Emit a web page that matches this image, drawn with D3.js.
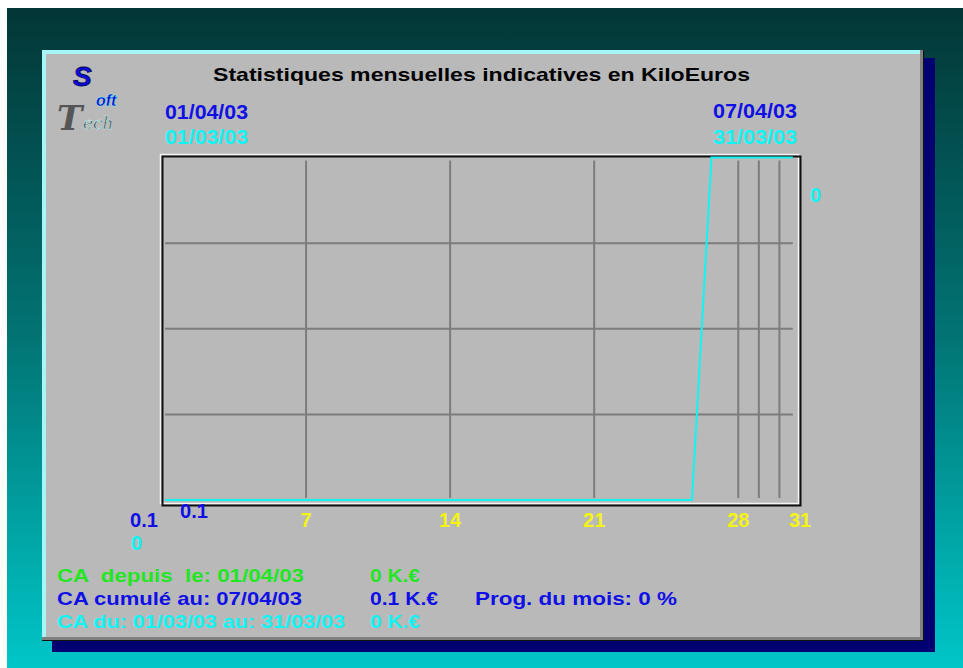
<!doctype html>
<html lang="fr">
<head>
  <meta charset="UTF-8">
  <title>Statistiques mensuelles</title>
  <script src="https://cdn.jsdelivr.net/npm/d3@7"></script>
  <style>
    body { margin: 0; background: #fff; }
    text { font-family: "Liberation Sans", Arial, sans-serif; font-weight: bold; white-space: pre; }
  </style>
</head>
<body>
<div id="container"></div>
<script type="text/javascript">
// --- data ---
var title = 'Statistiques mensuelles indicatives en KiloEuros';
var periodStart = ['01/04/03', '01/03/03'];   // current month, previous month
var periodEnd = ['07/04/03', '31/03/03'];
var dayTicks = [7, 14, 21, 28, 31];
var dayGrid = [7, 14, 21, 28, 29, 30];
var valueMax = 0.1;
var valueGrid = [0.025, 0.05, 0.075];
// previous month cumulative line (cyan)
var marchDays = [0.15, 25.75, 26.7, 30.65];
var marchValues = [0, 0, 0.1, 0.1];
var summaryLabels = ['CA  depuis  le: 01/04/03', 'CA cumulé au: 07/04/03', 'CA du: 01/03/03 au: 31/03/03'];
var summaryValues = ['0 K.€', '0.1 K.€', '0 K.€'];
var progLabel = 'Prog. du mois: 0 %';

var W = 963, H = 668;
var blue = '#1010e6', cyan = '#10f4f4', green = '#22e622', yellow = '#f4f414';

var svg = d3.select('#container').append('svg')
  .attr('width', W)
  .attr('height', H);

var defs = svg.append('defs');
var grad = defs.append('linearGradient')
  .attr('id', 'bg')
  .attr('x1', 0).attr('y1', 0).attr('x2', 0).attr('y2', 1);
grad.append('stop').attr('offset', '0%').attr('stop-color', '#033636');
grad.append('stop').attr('offset', '50%').attr('stop-color', '#027474');
grad.append('stop').attr('offset', '100%').attr('stop-color', '#00c6c8');

svg.append('rect')
  .attr('x', 7).attr('y', 8)
  .attr('width', W - 7).attr('height', H - 8)
  .attr('fill', 'url(#bg)');

// panel + navy shadow
var px = 42, py = 50, pw = 882, ph = 591;
svg.append('rect').attr('x', px + 10).attr('y', py + 8).attr('width', pw + 1).attr('height', ph + 3).attr('fill', '#000070');
svg.append('rect').attr('x', px).attr('y', py).attr('width', pw).attr('height', ph).attr('fill', '#111');
svg.append('rect').attr('x', px).attr('y', py).attr('width', pw - 1).attr('height', ph - 1).attr('fill', '#808080');
svg.append('rect').attr('x', px).attr('y', py).attr('width', pw - 4).attr('height', ph - 4).attr('fill', '#a6f6f8');
svg.append('rect').attr('x', px + 4).attr('y', py + 4).attr('width', pw - 8).attr('height', ph - 8).attr('fill', '#b9b9b9');

// logo pieces, kept side by side
var logo = svg.append('g').attr('class', 'logo');
logo.append('text').attr('x', 73).attr('y', 86).text('S')
  .style('font-size', '28px').style('font-style', 'italic').attr('fill', '#0a0ae0')
  .attr('stroke', '#000050').attr('stroke-width', 0.8);
logo.append('text').attr('x', 96).attr('y', 106).text('oft')
  .style('font-size', '16px').style('font-style', 'italic').attr('fill', '#0a0ad0')
  .attr('stroke', '#5ff').attr('stroke-width', 0.3);
logo.append('text').attr('x', 57).attr('y', 130).text('T')
  .style('font-size', '34px').style('font-style', 'italic').style('font-family', '"DejaVu Serif", serif')
  .attr('fill', '#555');
logo.append('text').attr('x', 83).attr('y', 129).text('ech')
  .style('font-size', '17px').style('font-style', 'italic').style('font-weight', 'normal')
  .style('font-family', '"DejaVu Serif", serif').attr('fill', '#444').attr('stroke', '#c8ffff').attr('stroke-width', 0.4);

function label(x, y, str, color, size, width, anchor) {
  var t = svg.append('text')
    .attr('x', x).attr('y', y)
    .attr('fill', color)
    .attr('text-anchor', anchor || 'start')
    .style('font-size', size + 'px')
    .text(str);
  if (width) t.attr('textLength', width).attr('lengthAdjust', 'spacingAndGlyphs');
  return t;
}

label(213, 81, title, '#000', 19, 537);

// scales
var x = d3.scaleLinear().domain([0, 31]).range([162, 800]);
var y = d3.scaleLinear().domain([0, valueMax]).range([500, 157.5]);

// plot frame (sunken)
svg.append('rect').attr('x', x(0) - 1.5).attr('y', 154.5).attr('width', x(31) - x(0)).attr('height', 349)
  .attr('fill', 'none').attr('stroke', '#f4f4f4').attr('stroke-width', 1.5);
svg.append('rect').attr('x', x(0) + 0.5).attr('y', 156.5).attr('width', x(31) - x(0)).attr('height', 349)
  .attr('fill', 'none').attr('stroke', '#111').attr('stroke-width', 2);

// grid
var g = svg.append('g').attr('class', 'grid');
g.selectAll('.vgrid').data(dayGrid).enter().append('line')
  .attr('class', 'vgrid')
  .attr('x1', function(d) { return x(d); }).attr('x2', function(d) { return x(d); })
  .attr('y1', y(valueMax) + 3).attr('y2', y(0) - 2)
  .attr('stroke', '#7c7c7c').attr('stroke-width', 2);
g.selectAll('.hgrid').data(valueGrid).enter().append('line')
  .attr('class', 'hgrid')
  .attr('x1', x(marchDays[0])).attr('x2', x(marchDays[marchDays.length - 1]))
  .attr('y1', function(d) { return y(d); }).attr('y2', function(d) { return y(d); })
  .attr('stroke', '#7c7c7c').attr('stroke-width', 2);

// previous month line
var line = d3.line()
  .x(function(d, i) { return x(marchDays[i]); })
  .y(function(d) { return y(d); });
svg.append('path')
  .datum(marchValues)
  .attr('d', line)
  .attr('fill', 'none')
  .attr('stroke', cyan)
  .attr('stroke-width', 2);

// x tick labels
svg.selectAll('.tick').data(dayTicks).enter().append('text')
  .attr('class', 'tick')
  .attr('x', function(d) { return x(d); })
  .attr('y', 527)
  .attr('text-anchor', 'middle')
  .attr('fill', yellow)
  .style('font-size', '20px')
  .text(function(d) { return d; });

// period labels
label(165, 119, periodStart[0], blue, 20, 83);
label(165, 144, periodStart[1], cyan, 20, 83);
label(797, 118, periodEnd[0], blue, 20, 84, 'end');
label(797, 144, periodEnd[1], cyan, 20, 84, 'end');

// value labels
label(810, 202, '0', cyan, 20);
label(130, 527, String(valueMax), blue, 20, 28);
label(131, 550, '0', cyan, 20);
label(180, 518, String(valueMax), blue, 20, 28);

// summary
var sumColors = [green, blue, cyan];
var sumY = [582, 605, 628];
var sumWidths = [247, 245, 288];
var valWidths = [50, 68, 50];
summaryLabels.forEach(function(s, i) {
  label(57, sumY[i], s, sumColors[i], 19, sumWidths[i]);
  label(370, sumY[i], summaryValues[i], sumColors[i], 19, valWidths[i]);
});
label(475, 605, progLabel, blue, 19, 202);
</script>
</body>
</html>
